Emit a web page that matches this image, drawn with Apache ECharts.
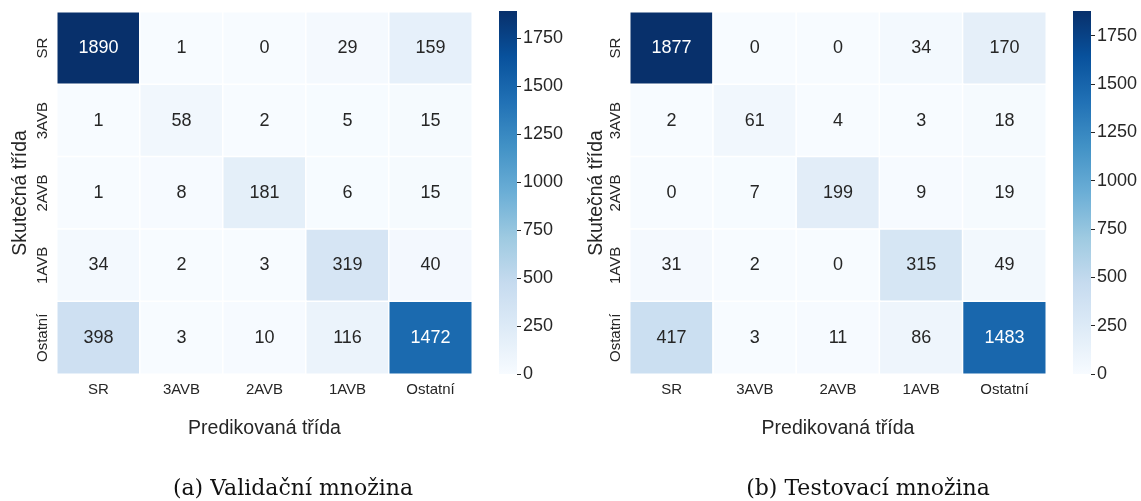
<!DOCTYPE html>
<html><head><meta charset="utf-8">
<script src="https://cdn.jsdelivr.net/npm/echarts@6/dist/echarts.min.js"></script>
<style>html,body{margin:0;padding:0;background:#fff}#c{width:1141px;height:501px}</style>
</head><body><div id="c"></div>
<script>
const classes = ['SR','3AVB','2AVB','1AVB','Ostatní'];
const valMatrix = [
  [1890,1,0,29,159],
  [1,58,2,5,15],
  [1,8,181,6,15],
  [34,2,3,319,40],
  [398,3,10,116,1472]
];
const testMatrix = [
  [1877,0,0,34,170],
  [2,61,4,3,18],
  [0,7,199,9,19],
  [31,2,0,315,49],
  [417,3,11,86,1483]
];
const cbTicks = [0,250,500,750,1000,1250,1500,1750];
const captions = ['(a) Validační množina','(b) Testovací množina'];
const xTitle = 'Predikovaná třída';
const yTitle = 'Skutečná třída';

const blues = ['#f7fbff','#deebf7','#c6dbef','#9ecae1','#6baed6','#4292c6','#2171b5','#08519c','#08306b'];
const SANS = '"Liberation Sans", Arial, sans-serif';
const TXT = '#262626';

function maxOf(m){return Math.max(...m.flat());}
function toData(m){
  const mx = maxOf(m), out = [];
  m.forEach((row,r)=>row.forEach((v,c)=>{
    out.push({value:[c,r,v], label:{color: v/mx > 0.5 ? '#ffffff' : TXT}});
  }));
  return out;
}

const panels = [
  {m: valMatrix, gx: 57, gw: 415, cbx: 499, cap: 293, yGap: 26},
  {m: testMatrix, gx: 630, gw: 416, cbx: 1073, cap: 868, yGap: 21}
];
const gridTop = 12, gridH = 362;

const option = {
  animation:false,
  backgroundColor:'#fff',
  grid:[], xAxis:[], yAxis:[], series:[], visualMap:[],
  graphic:[]
};
panels.forEach((p,i)=>{
  const mx = maxOf(p.m);
  option.grid.push({left:p.gx, top:gridTop, width:p.gw, height:gridH});
  option.xAxis.push({type:'category', gridIndex:option.grid.length-1, data:classes,
    axisLine:{show:false}, axisTick:{show:false}, splitLine:{show:false},
    axisLabel:{color:TXT, fontFamily:SANS, fontSize:15, margin:8},
    name:xTitle, nameLocation:'middle', nameGap:45,
    nameTextStyle:{color:TXT, fontFamily:SANS, fontSize:19.5}});
  option.yAxis.push({type:'category', gridIndex:option.grid.length-1, data:classes, inverse:true,
    axisLine:{show:false}, axisTick:{show:false}, splitLine:{show:false},
    axisLabel:{color:TXT, fontFamily:SANS, fontSize:15, margin:7, rotate:90},
    name:yTitle, nameLocation:'middle', nameGap:p.yGap, nameRotate:90,
    nameTextStyle:{color:TXT, fontFamily:SANS, fontSize:19.5}});
  const hIdx = option.series.length;
  option.series.push({type:'heatmap', xAxisIndex:option.xAxis.length-1, yAxisIndex:option.yAxis.length-1,
    data:toData(p.m),
    itemStyle:{borderColor:'#ffffff', borderWidth:1.5},
    label:{show:true, formatter:(d)=>String(d.value[2]), fontFamily:SANS, fontSize:18},
    emphasis:{disabled:true}});
  option.visualMap.push({type:'continuous', show:false, min:0, max:mx, seriesIndex:hIdx, dimension:2,
    inRange:{color:blues}});
  option.grid.push({left:p.cbx, top:gridTop - 1, width:18, height:gridH + 1});
  option.xAxis.push({type:'category', gridIndex:option.grid.length-1, data:['cb'], show:false});
  option.yAxis.push({type:'value', gridIndex:option.grid.length-1, min:0, max:mx, position:'right',
    axisLine:{show:false}, splitLine:{show:false},
    axisTick:{show:true, length:4, lineStyle:{color:TXT, width:1}, customValues:cbTicks},
    axisLabel:{color:TXT, fontFamily:SANS, fontSize:18, margin:6, customValues:cbTicks,
      formatter:(v)=>String(v)}});
  option.series.push({type:'bar', xAxisIndex:option.xAxis.length-1, yAxisIndex:option.yAxis.length-1,
    data:[mx], barWidth:'100%', silent:true,
    itemStyle:{color:new echarts.graphic.LinearGradient(0,1,0,0,
      blues.map((c,k)=>({offset:k/(blues.length-1), color:c})))}});
  option.graphic.push({type:'text', x:p.cap, y:489,
    style:{text:captions[i], fill:'#111', font:'22px "DejaVu Serif", serif', textAlign:'center', textVerticalAlign:'middle'}});
});

const chart = echarts.init(document.getElementById('c'), null, {renderer:'canvas'});
chart.setOption(option);
</script></body></html>
